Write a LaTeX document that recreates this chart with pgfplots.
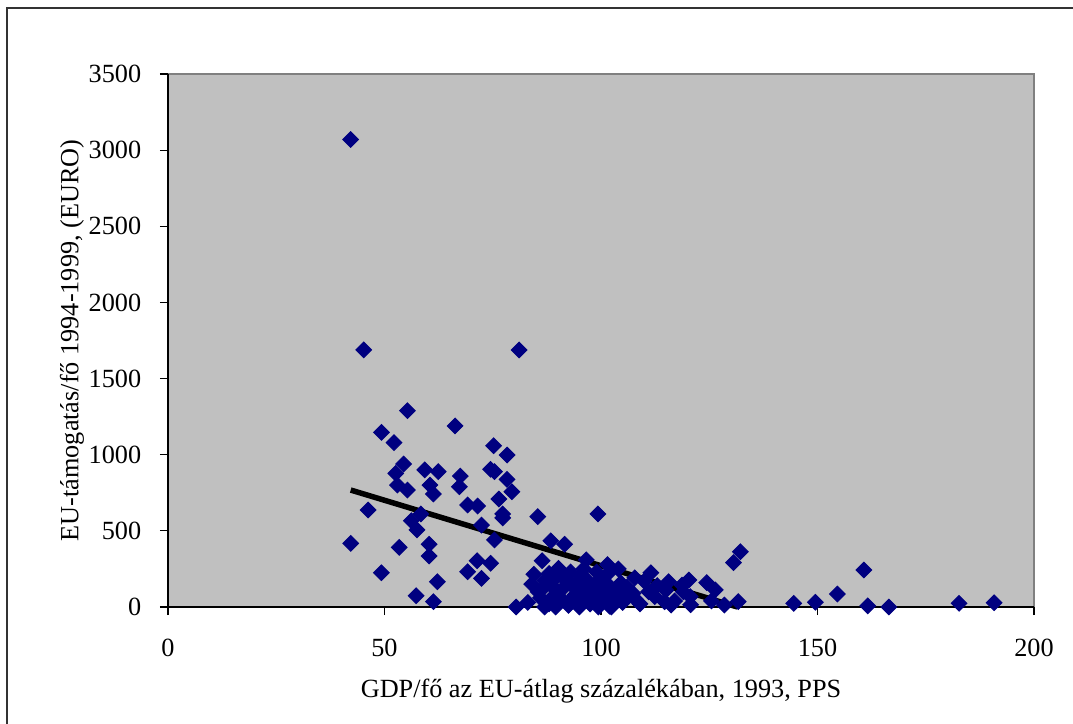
\documentclass[border=0pt]{standalone}
\usepackage{pgfplots}
\pgfplotsset{compat=1.18}
\usepackage{fontspec}
\setmainfont{Liberation Serif}
\definecolor{plotgray}{HTML}{C0C0C0}
\definecolor{navymark}{HTML}{000080}

\pgfplotstableread{
x y
42.2 3070
45.2 1688
81.1 1688
55.3 1289
66.3 1189
49.3 1147
52.2 1079
75.2 1059
78.3 998
54.4 939
59.3 900
62.4 889
52.6 878
67.5 860
74.5 904
75.4 889
78.3 838
53.0 801
55.3 768
60.5 801
67.3 790
61.3 742
79.4 757
76.4 709
69.2 670
71.5 663
46.2 637
58.4 611
77.3 611
77.3 585
85.4 593
56.2 567
57.5 506
72.4 538
75.4 440
42.2 418
88.4 435
91.6 412
53.4 392
60.3 412
60.3 335
71.4 304
74.5 287
69.2 232
72.4 188
49.3 225
62.2 166
57.3 74
61.3 35
86.4 304
84.5 215
80.4 0
83.1 30
99.3 611
96.6 309
101.5 278
104.0 250
111.5 225
120.3 177
124.4 160
130.6 291
132.2 363
107.8 192
115.6 166
118.7 144
126.4 112
120.6 68
125.5 40
128.5 13
131.7 35
144.5 24
149.5 31
154.6 85
160.7 243
161.6 7
166.5 0
182.7 24
190.8 28
112.4 68
114.7 35
116.2 13
107.4 90
105.8 90
104.6 158
90.2 254
87.0 175
88.5 140
90.0 100
91.0 200
92.5 160
94.0 120
95.5 210
97.0 170
98.5 130
100.0 190
101.5 150
103.0 110
86.0 60
88.0 20
89.5 0
91.0 50
92.5 10
94.0 80
95.5 40
97.0 90
98.5 50
100.0 20
102.0 5
84.0 150
85.5 100
87.0 0
93.0 230
96.0 250
99.0 230
102.0 230
106.0 130
108.0 50
110.0 170
111.0 100
113.0 140
115.0 110
117.0 40
119.0 100
109.0 20
99.4 0
102.4 0
120.7 15
86.5 120
89.0 70
89.5 190
91.5 130
93.5 60
94.5 170
96.0 130
97.5 20
99.5 100
101.0 70
103.5 60
105.0 30
88.0 220
95.0 0
}\scatterdata

\begin{document}
\begin{tikzpicture}[font=\fontsize{10.5}{12.6}\selectfont]
% page = 1073 x 724 px at 0.4pt per px
\path[use as bounding box] (0,0) rectangle (429.2pt,289.6pt);
\draw[line width=0.6pt, black!80] (2.8pt,0) -- (2.8pt,286.4pt) -- (429.2pt,286.4pt);
\begin{axis}[
    at={(67.2pt,46.8pt)}, anchor=south west,
    scale only axis,
    width=346.4pt, height=213.2pt,
    xmin=0, xmax=200,
    ymin=0, ymax=3500,
    xtick={0,50,100,150,200},
    ytick={0,500,1000,1500,2000,2500,3000,3500},
    axis x line*=bottom,
    axis y line*=left,
    axis line style={-, black, line width=0.6pt},
    axis background/.style={fill=plotgray, draw=gray, line width=1pt},
    tick align=outside,
    major tick length=3.2pt,
    tick style={black, line width=0.5pt},
    xticklabel style={yshift=-6pt},
    yticklabel style={xshift=-4pt},
    /pgf/number format/assume math mode=true,
    /pgf/number format/set thousands separator={},
    scaled ticks=false,
    xlabel={GDP/fő az EU-átlag százalékában, 1993, PPS},
    ylabel={EU-támogatás/fő 1994-1999, (EURO)},
    xlabel style={yshift=-2pt},
    ylabel style={yshift=-5pt},
    clip=false,
]
\addplot[only marks, mark=square*, mark size=2.2pt,
    mark options={rotate=45, fill=navymark, draw=navymark}]
    table[x=x, y=y] {\scatterdata};
\addplot[black, line width=2.2pt] coordinates {(42.2,768) (131.5,0)};
\end{axis}
\end{tikzpicture}
\end{document}
